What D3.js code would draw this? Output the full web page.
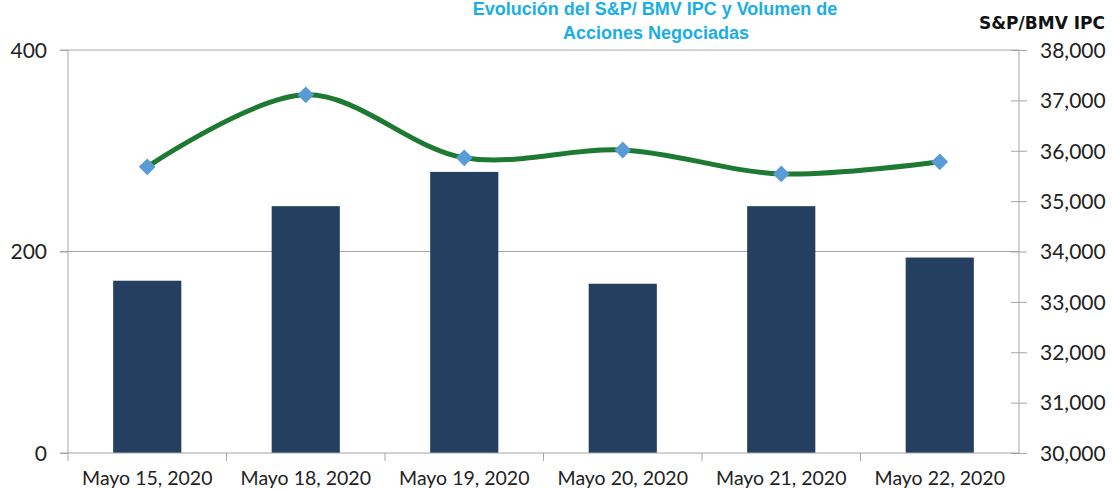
<!DOCTYPE html>
<html>
<head>
<meta charset="utf-8">
<script src="https://cdn.jsdelivr.net/npm/d3@7"></script>
<style>
  body { margin: 0; background: #fff; }
  text { font-family: "Lato", "Open Sans", sans-serif; }
</style>
</head>
<body>
<div id="chart"></div>
<script>
// data
var fechas = ["Mayo 15, 2020", "Mayo 18, 2020", "Mayo 19, 2020", "Mayo 20, 2020", "Mayo 21, 2020", "Mayo 22, 2020"];
var volumen = [171, 245, 279, 168, 245, 194];
var ipc = [35680, 37110, 35860, 36015, 35540, 35780];
var volTicks = [0, 200, 400];
var ipcTicks = [30000, 31000, 32000, 33000, 34000, 35000, 36000, 37000, 38000];

// set the dimensions and margins of the graph
var margin = {top: 50, right: 93, bottom: 36, left: 68},
    width = 1112 - margin.left - margin.right,
    height = 489 - margin.top - margin.bottom;

var svg = d3.select("#chart")
  .append("svg")
    .attr("width", 1112)
    .attr("height", 489);

var chart = svg.append("g")
    .attr("transform", "translate(" + margin.left + "," + margin.top + ")");

// scales
var x = d3.scaleBand()
  .domain(fechas)
  .range([0, width])
  .paddingInner(0.57)
  .paddingOuter(0.285);
var xb = d3.scaleBand().domain(fechas).range([0, width]);
var yL = d3.scaleLinear().domain([0, 400]).range([height, 0]);
var yR = d3.scaleLinear().domain([30000, 38000]).range([height, 0]);

// gridlines
chart.append("g")
  .selectAll("line")
  .data(volTicks.slice(1))
  .enter()
  .append("line")
    .attr("x1", -8)
    .attr("x2", width)
    .attr("y1", function(d) { return yL(d) })
    .attr("y2", function(d) { return yL(d) })
    .attr("stroke", "#a6a6a6")
    .attr("stroke-width", 1);

// bars
chart.append("g")
  .selectAll("rect")
  .data(volumen)
  .enter()
  .append("rect")
    .attr("x", function(d, i) { return x(fechas[i]) })
    .attr("y", function(d) { return yL(d) })
    .attr("width", x.bandwidth())
    .attr("height", function(d) { return height - yL(d) })
    .attr("fill", "#243f60");

// left axis
var axL = chart.append("g")
  .call(d3.axisLeft(yL).tickValues(volTicks).tickSize(8).tickPadding(13));
axL.select(".domain").attr("stroke", "#a6a6a6").attr("d", "M0," + height + "V0");
axL.selectAll(".tick line").attr("stroke", "#a6a6a6");
axL.selectAll("text").style("font-size", "21px").attr("fill", "#222").attr("dy", "0.35em");

// right axis
var axR = chart.append("g")
  .attr("transform", "translate(" + width + ",0)")
  .call(d3.axisRight(yR).tickValues(ipcTicks).tickSize(8).tickPadding(13).tickFormat(d3.format(",")));
axR.select(".domain").attr("stroke", "#a6a6a6").attr("d", "M0," + height + "V0");
axR.selectAll(".tick line").attr("stroke", "#a6a6a6").attr("x1", -8);
axR.selectAll("text").style("font-size", "21px").attr("fill", "#222").attr("dy", "0.35em");

// bottom axis
var axB = chart.append("g")
  .attr("transform", "translate(0," + height + ")")
  .call(d3.axisBottom(x).tickSize(0).tickPadding(18));
axB.select(".domain").attr("stroke", "#a6a6a6").attr("d", "M-8,0H" + width);
axB.selectAll("text").style("font-size", "19.5px").attr("fill", "#222");
axB.selectAll(".sep")
  .data(fechas)
  .enter()
  .append("line")
    .attr("x1", function(d) { return xb(d) })
    .attr("x2", function(d) { return xb(d) })
    .attr("y1", 0)
    .attr("y2", 8)
    .attr("stroke", "#a6a6a6");

// the line
var line = d3.line()
  .x(function(d, i) { return x(fechas[i]) + x.bandwidth() / 2 })
  .y(function(d) { return yR(d) })
  .curve(d3.curveCatmullRom.alpha(0.5));
chart.append("path")
  .datum(ipc)
  .attr("fill", "none")
  .attr("stroke", "#1e7a32")
  .attr("stroke-width", 5)
  .attr("d", line);

// the points
chart.append("g")
  .selectAll("path")
  .data(ipc)
  .enter()
  .append("path")
    .attr("d", d3.symbol().type(d3.symbolDiamond2).size(180))
    .attr("transform", function(d, i) {
      return "translate(" + (x(fechas[i]) + x.bandwidth() / 2) + "," + yR(d) + ")";
    })
    .attr("fill", "#5b9bd5");

// titles
svg.append("text")
  .attr("x", 655).attr("y", 15)
  .attr("text-anchor", "middle")
  .style("font-family", "Liberation Sans, Arial, sans-serif")
  .style("font-size", "18px").style("font-weight", "bold")
  .attr("fill", "#1aaee8")
  .text("Evolución del S&P/ BMV IPC y Volumen de");
svg.append("text")
  .attr("x", 656).attr("y", 39)
  .attr("text-anchor", "middle")
  .style("font-family", "Liberation Sans, Arial, sans-serif")
  .style("font-size", "18px").style("font-weight", "bold")
  .attr("fill", "#1aaee8")
  .text("Acciones Negociadas");
svg.append("text")
  .attr("x", 1105).attr("y", 29)
  .attr("text-anchor", "end")
  .style("font-family", "DejaVu Sans, sans-serif")
  .style("font-size", "17px").style("font-weight", "bold")
  .attr("fill", "#111")
  .text("S&P/BMV IPC");
</script>
</body>
</html>
